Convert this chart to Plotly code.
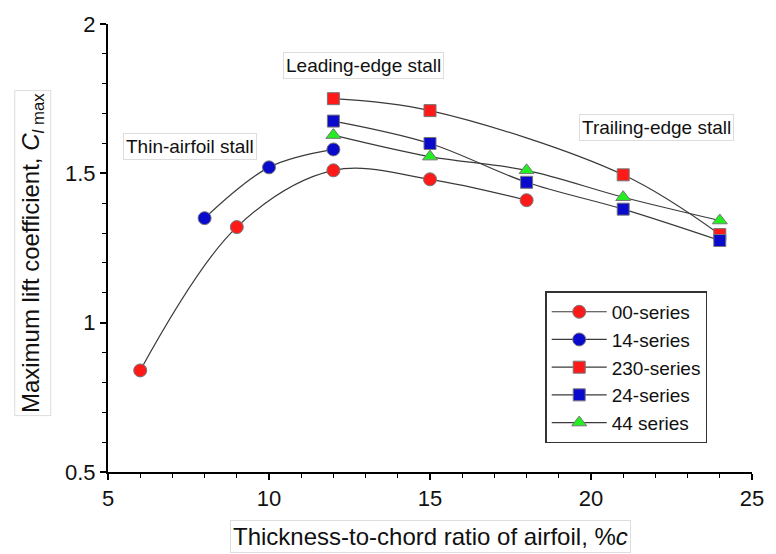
import plotly.graph_objects as go

# Data
x_00 = [6, 9, 12, 15, 18]
y_00 = [0.84, 1.32, 1.51, 1.48, 1.41]

x_14 = [8, 10, 12]
y_14 = [1.35, 1.52, 1.58]

x_230 = [12, 15, 21, 24]
y_230 = [1.75, 1.71, 1.495, 1.295]

x_24 = [12, 15, 18, 21, 24]
y_24 = [1.675, 1.60, 1.47, 1.38, 1.275]

x_44 = [12, 15, 18, 21, 24]
y_44 = [1.628, 1.556, 1.51, 1.42, 1.342]

series = [
    ("00-series", x_00, y_00, "circle", "#ff1a1a", 13),
    ("14-series", x_14, y_14, "circle", "#0a0acc", 13),
    ("230-series", x_230, y_230, "square", "#ff1a1a", 12),
    ("24-series", x_24, y_24, "square", "#0a0acc", 12),
    ("44 series", x_44, y_44, "triangle-up", "#22ee22", 13),
]

FONT = "Arial, Liberation Sans, sans-serif"

fig = go.Figure()
for name, xs, ys, sym, col, sz in series:
    fig.add_trace(go.Scatter(
        x=xs, y=ys, name=name, mode="lines+markers",
        legendgroup=name,
        line=dict(color="#3a3a3a", width=1.2, shape="spline", smoothing=1.0),
        marker=dict(symbol=sym, size=sz, color=col,
                    line=dict(color="#777777", width=1)),
    ))

fig.update_layout(
    width=776, height=554,
    margin=dict(l=108, r=14, t=18, b=82),
    paper_bgcolor="white", plot_bgcolor="white",
    font=dict(family=FONT, color="#111111"),
    showlegend=True,
    legend=dict(
        x=(552 - 108) / 654, y=(472 - 289) / 454, xanchor="left", yanchor="top",
        bgcolor="white", bordercolor="#333333", borderwidth=1.5,
        font=dict(size=19, family=FONT, color="#111111"),
        tracegroupgap=0, itemwidth=55,
    ),
)

fig.update_xaxes(
    range=[5, 25], tickvals=[5, 10, 15, 20, 25],
    showline=True, linecolor="black", linewidth=2,
    ticks="outside", ticklen=6, tickwidth=1.5, tickcolor="black",
    minor=dict(dtick=1, ticks="outside", ticklen=4, tickwidth=1, tickcolor="black"),
    showgrid=False, zeroline=False,
    tickfont=dict(size=22, family=FONT, color="#111111"),
)
fig.update_yaxes(
    range=[0.5, 2], tickvals=[0.5, 1, 1.5, 2], ticktext=["0.5", "1", "1.5", "2"],
    showline=True, linecolor="black", linewidth=2,
    ticks="outside", ticklen=6, tickwidth=1.5, tickcolor="black",
    minor=dict(dtick=0.1, ticks="outside", ticklen=4, tickwidth=1, tickcolor="black"),
    showgrid=False, zeroline=False,
    tickfont=dict(size=22, family=FONT, color="#111111"),
)

box = dict(bordercolor="#dddddd", borderwidth=1, borderpad=2, bgcolor="white")
notes = [
    ("Thin-airfoil stall", 191, 142),
    ("Leading-edge stall", 367, 60),
    ("Trailing-edge stall", 665, 123),
]
for text, px, py in notes:
    fig.add_annotation(
        text=text, xref="paper", yref="paper",
        x=(px - 108) / 654, y=(472 - py) / 454,
        xanchor="center", yanchor="middle", showarrow=False,
        font=dict(size=19, family=FONT, color="#111111"), **box,
    )

# Axis titles
fig.add_annotation(
    text="Thickness-to-chord ratio of airfoil, %<i>c</i>",
    xref="paper", yref="paper", x=(436 - 108) / 654, y=(472 - 537) / 454,
    xanchor="center", yanchor="middle", showarrow=False,
    font=dict(size=24, family=FONT, color="#111111"), **box,
)
fig.add_annotation(
    text="Maximum lift coefficient, <i>C</i><sub><i>l</i> max</sub>",
    xref="paper", yref="paper", x=(32 - 108) / 654, y=(472 - 250) / 454,
    xanchor="center", yanchor="middle", showarrow=False, textangle=-90,
    font=dict(size=24, family=FONT, color="#111111"), **box,
)

fig.write_html("out.html")
